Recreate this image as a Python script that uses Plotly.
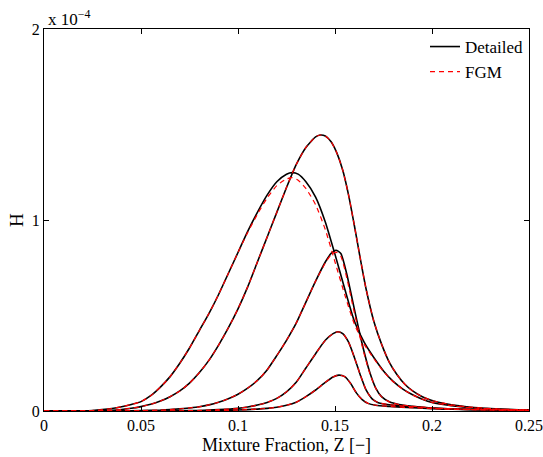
import plotly.graph_objects as go

# Mixture fraction Z and H (in units of 1e-4)
z_a = [0.0, 0.01, 0.02, 0.025, 0.03, 0.035, 0.04, 0.045, 0.05, 0.055, 0.06, 0.065, 0.07, 0.075, 0.08, 0.085,
       0.09, 0.095, 0.1, 0.105, 0.11, 0.115, 0.12, 0.125, 0.128, 0.131, 0.135, 0.14, 0.145, 0.15, 0.155, 0.16,
       0.165, 0.17, 0.175, 0.18, 0.185, 0.19, 0.195, 0.2, 0.21, 0.22, 0.23, 0.24, 0.25]
h_a = [0.0, 0.0, 0.001, 0.003, 0.007, 0.013, 0.022, 0.034, 0.049, 0.08, 0.125, 0.18, 0.25, 0.33, 0.42, 0.51,
       0.61, 0.72, 0.83, 0.94, 1.04, 1.13, 1.2, 1.24, 1.248, 1.24, 1.2, 1.12, 0.99, 0.82, 0.64, 0.47,
       0.36, 0.28, 0.21, 0.155, 0.115, 0.085, 0.062, 0.045, 0.028, 0.017, 0.011, 0.007, 0.005]
h_a_fgm = [0.0, 0.0, 0.001, 0.003, 0.007, 0.013, 0.022, 0.034, 0.049, 0.08, 0.125, 0.18, 0.25, 0.33, 0.42, 0.51,
           0.61, 0.72, 0.83, 0.935, 1.03, 1.115, 1.18, 1.215, 1.222, 1.208, 1.165, 1.08, 0.95, 0.78, 0.61, 0.455,
           0.35, 0.275, 0.207, 0.153, 0.114, 0.084, 0.062, 0.045, 0.028, 0.017, 0.011, 0.007, 0.005]

z_b = [0.0, 0.02, 0.03, 0.035, 0.04, 0.045, 0.05, 0.055, 0.06, 0.065, 0.07, 0.075, 0.08, 0.085, 0.09, 0.095,
       0.1, 0.105, 0.11, 0.115, 0.12, 0.125, 0.13, 0.135, 0.14, 0.1423, 0.145, 0.148, 0.151, 0.154, 0.157,
       0.16, 0.163, 0.166, 0.17, 0.174, 0.178, 0.182, 0.186, 0.19, 0.195, 0.2, 0.21, 0.22, 0.23, 0.24, 0.25]
h_b = [0.0, 0.0, 0.002, 0.004, 0.008, 0.014, 0.023, 0.035, 0.052, 0.075, 0.105, 0.146, 0.2, 0.265, 0.345, 0.435,
       0.535, 0.65, 0.78, 0.91, 1.04, 1.17, 1.29, 1.38, 1.435, 1.445, 1.44, 1.41, 1.35, 1.26, 1.13,
       0.97, 0.8, 0.64, 0.47, 0.35, 0.255, 0.19, 0.14, 0.105, 0.075, 0.055, 0.032, 0.02, 0.013, 0.008, 0.006]

z_c = [0.0, 0.04, 0.05, 0.06, 0.07, 0.075, 0.08, 0.085, 0.09, 0.095, 0.1, 0.105, 0.11, 0.115, 0.12, 0.125,
       0.13, 0.135, 0.14, 0.145, 0.148, 0.1505, 0.153, 0.156, 0.159, 0.162, 0.165, 0.168, 0.171, 0.174, 0.178,
       0.183, 0.19, 0.2, 0.22, 0.25]
h_c = [0.0, 0.0, 0.002, 0.005, 0.011, 0.016, 0.022, 0.032, 0.046, 0.064, 0.088, 0.12, 0.16, 0.215, 0.29, 0.37,
       0.46, 0.57, 0.68, 0.78, 0.825, 0.842, 0.825, 0.72, 0.58, 0.44, 0.31, 0.2, 0.12, 0.075, 0.048,
       0.034, 0.025, 0.016, 0.008, 0.003]
h_c_fgm = [0.0, 0.0, 0.002, 0.005, 0.011, 0.016, 0.022, 0.032, 0.046, 0.064, 0.088, 0.12, 0.16, 0.215, 0.29, 0.37,
           0.46, 0.57, 0.68, 0.775, 0.818, 0.832, 0.81, 0.70, 0.56, 0.425, 0.30, 0.195, 0.118, 0.074, 0.048,
           0.034, 0.025, 0.016, 0.008, 0.003]

z_d = [0.0, 0.06, 0.07, 0.08, 0.09, 0.1, 0.105, 0.11, 0.115, 0.12, 0.125, 0.13, 0.135, 0.14, 0.145, 0.149,
       0.1515, 0.154, 0.157, 0.16, 0.163, 0.166, 0.169, 0.172, 0.177, 0.185, 0.2, 0.22, 0.25]
h_d = [0.0, 0.0, 0.001, 0.003, 0.007, 0.014, 0.021, 0.031, 0.045, 0.066, 0.1, 0.15, 0.225, 0.3, 0.37, 0.405,
       0.415, 0.405, 0.36, 0.28, 0.19, 0.11, 0.065, 0.045, 0.034, 0.026, 0.015, 0.008, 0.003]

z_e = [0.0, 0.08, 0.09, 0.1, 0.11, 0.115, 0.12, 0.125, 0.13, 0.135, 0.14, 0.145, 0.149, 0.152, 0.155, 0.158,
       0.161, 0.164, 0.167, 0.171, 0.178, 0.19, 0.2, 0.22, 0.25]
h_e = [0.0, 0.0, 0.002, 0.005, 0.01, 0.014, 0.02, 0.03, 0.046, 0.075, 0.11, 0.15, 0.178, 0.188, 0.18, 0.145,
       0.095, 0.06, 0.04, 0.03, 0.024, 0.017, 0.012, 0.007, 0.003]

series_detailed = [(z_a, h_a), (z_b, h_b), (z_c, h_c), (z_d, h_d), (z_e, h_e)]
series_fgm = [(z_a, h_a_fgm), (z_b, h_b), (z_c, h_c_fgm), (z_d, h_d), (z_e, h_e)]

x_ticks = [0, 0.05, 0.1, 0.15, 0.2, 0.25]
x_tick_text = ["0", "0.05", "0.1", "0.15", "0.2", "0.25"]
y_ticks = [0, 1, 2]
y_tick_text = ["0", "1", "2"]

FONT = "Liberation Serif, Times New Roman, serif"

fig = go.Figure()
for i, (zz, hh) in enumerate(series_detailed):
    fig.add_trace(go.Scatter(x=zz, y=hh, mode="lines",
                             line=dict(color="black", width=1.6, shape="spline", smoothing=0.6),
                             name="Detailed", showlegend=(i == 0), legendrank=1))
for i, (zz, hh) in enumerate(series_fgm):
    fig.add_trace(go.Scatter(x=zz, y=hh, mode="lines",
                             line=dict(color="#ff0000", width=1.2, dash="5px,4px", shape="spline", smoothing=0.6),
                             name="FGM", showlegend=(i == 0), legendrank=2))

axis_common = dict(showline=True, linecolor="black", linewidth=1, mirror="ticks", ticks="inside",
                   ticklen=5, tickcolor="black", showgrid=False, zeroline=False, automargin=False,
                   ticklabeloverflow="allow",
                   tickfont=dict(family=FONT, size=16, color="black"))

fig.update_layout(
    width=543, height=457,
    margin=dict(l=44, r=14, t=29, b=46),
    paper_bgcolor="white", plot_bgcolor="white",
    font=dict(family=FONT, size=17, color="black"),
    xaxis=dict(range=[0, 0.25], tickvals=x_ticks, ticktext=x_tick_text, **axis_common),
    yaxis=dict(range=[0, 2], tickvals=y_ticks, ticktext=y_tick_text, **axis_common),
    legend=dict(x=1.0, y=1.0, xanchor="right", yanchor="top", bgcolor="rgba(0,0,0,0)",
                font=dict(family=FONT, size=17), tracegroupgap=0, itemwidth=30),
    annotations=[
        dict(text="x 10<sup>\u22124</sup>", xref="paper", yref="paper", x=0.0, y=1.0,
             xanchor="left", yanchor="bottom", showarrow=False, yshift=-2, xshift=2,
             font=dict(family=FONT, size=17, color="black")),
        dict(text="Mixture Fraction, Z [\u2212]", xref="paper", yref="paper", x=0.5, y=0.0,
             xanchor="center", yanchor="top", showarrow=False, yshift=-22,
             font=dict(family=FONT, size=18, color="black")),
        dict(text="H", xref="paper", yref="paper", x=0.0, y=0.5, textangle=-90,
             xanchor="center", yanchor="middle", showarrow=False, xshift=-28,
             font=dict(family=FONT, size=19, color="black")),
    ],
)

fig.write_html("out.html")
